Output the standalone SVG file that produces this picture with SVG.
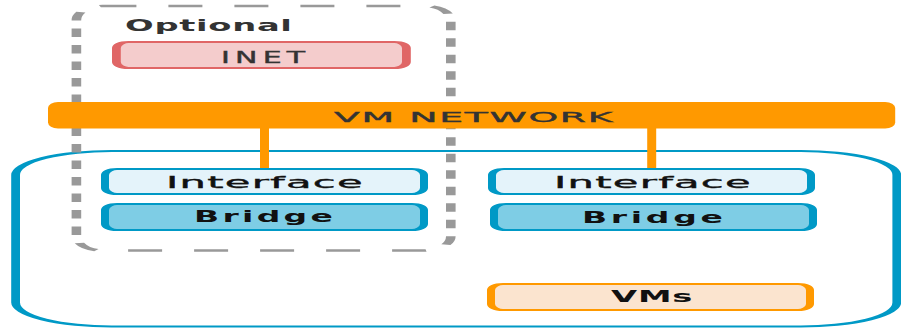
<svg xmlns="http://www.w3.org/2000/svg" width="901" height="328" viewBox="0 0 901 328">
  <style>
    .lbl { font-family: "DejaVu Sans", "Noto Sans", sans-serif; }
    .dark { fill: #333333; }
    .black { fill: #111111; }
    .b { font-weight: bold; }
    .med { stroke-width: 0.35; }
    .dark.med { stroke: #333333; }
    .black.med { stroke: #111111; }
    .iface { fill: #e4f3fa; stroke: #0099c6; stroke-width: 2; }
    .bridge { fill: #7ecde5; stroke: #0099c6; stroke-width: 2; }
    .vms { fill: #fbe4cf; stroke: #ff9900; stroke-width: 2; }
    .inet { fill: #f4cccc; stroke: #e06666; stroke-width: 2.2; }
    .wire { stroke: #ff9900; stroke-width: 9; fill: none; }
  </style>

  <!-- host boundary -->
  <g id="host">
    <rect transform="scale(4 1)" x="3.9" y="151" width="220.3" height="175.5" rx="24" ry="24" fill="#ffffff" stroke="#0099c6" stroke-width="2.2"/>
  </g>

  <!-- optional region -->
  <g id="optional">
    <rect transform="scale(4 1)" x="19.1" y="6" width="93.6" height="244.5" rx="6.5" ry="14" fill="none" stroke="#999999" stroke-width="2.4" stroke-dasharray="8.5 8"/>
    <text class="lbl dark b" transform="scale(2.25 1)" x="55.6" y="30.7" font-size="15" letter-spacing="0.3">Optional</text>
  </g>

  <!-- INET -->
  <g id="inet">
    <rect class="inet" transform="scale(4 1)" x="29.1" y="42" width="72.5" height="26" rx="3" ry="6"/>
    <text class="lbl dark med" transform="scale(2 1)" x="110.5" y="62.7" font-size="15" letter-spacing="2.6">INET</text>
  </g>

  <!-- VM network bar -->
  <g id="vm-network">
    <rect transform="scale(4 1)" x="12" y="102" width="211.8" height="26.5" rx="2.5" ry="6" fill="#ff9900"/>
    <text class="lbl dark med" transform="scale(2.7 1)" x="123.7" y="121.7" font-size="14" letter-spacing="0.6">VM NETWORK</text>
  </g>

  <!-- links from the bar to the interfaces -->
  <g id="connectors">
    <line class="wire" x1="264.5" y1="127" x2="264.5" y2="170"/>
    <line class="wire" x1="651.7" y1="127" x2="651.7" y2="170"/>
  </g>

  <!-- left stack -->
  <g id="interface-left">
    <rect class="iface" transform="scale(4 1)" x="26.25" y="169" width="79.75" height="25" rx="3" ry="6"/>
    <text class="lbl black med" transform="scale(2.6 1)" x="63.85" y="188.3" font-size="16" letter-spacing="0.5">Interface</text>
  </g>
  <g id="bridge-left">
    <rect class="bridge" transform="scale(4 1)" x="26.25" y="204" width="79.75" height="26" rx="3" ry="6"/>
    <text class="lbl black b" transform="scale(2.2 1)" x="88.2" y="222.3" font-size="15" letter-spacing="1.5">Bridge</text>
  </g>

  <!-- right stack -->
  <g id="interface-right">
    <rect class="iface" transform="scale(4 1)" x="123" y="169" width="79.75" height="25" rx="3" ry="6"/>
    <text class="lbl black med" transform="scale(2.6 1)" x="213.1" y="187.8" font-size="16" letter-spacing="0.5">Interface</text>
  </g>
  <g id="bridge-right">
    <rect class="bridge" transform="scale(4 1)" x="123.5" y="204" width="79.75" height="26" rx="3" ry="6"/>
    <text class="lbl black b" transform="scale(2.2 1)" x="264.5" y="222.8" font-size="15" letter-spacing="1.7">Bridge</text>
  </g>
  <g id="vms">
    <rect class="vms" transform="scale(4 1)" x="122.75" y="284" width="79.75" height="26" rx="3" ry="6"/>
    <text class="lbl black b" transform="scale(2.25 1)" x="271.6" y="302" font-size="15" letter-spacing="0.3">VMs</text>
  </g>
</svg>
